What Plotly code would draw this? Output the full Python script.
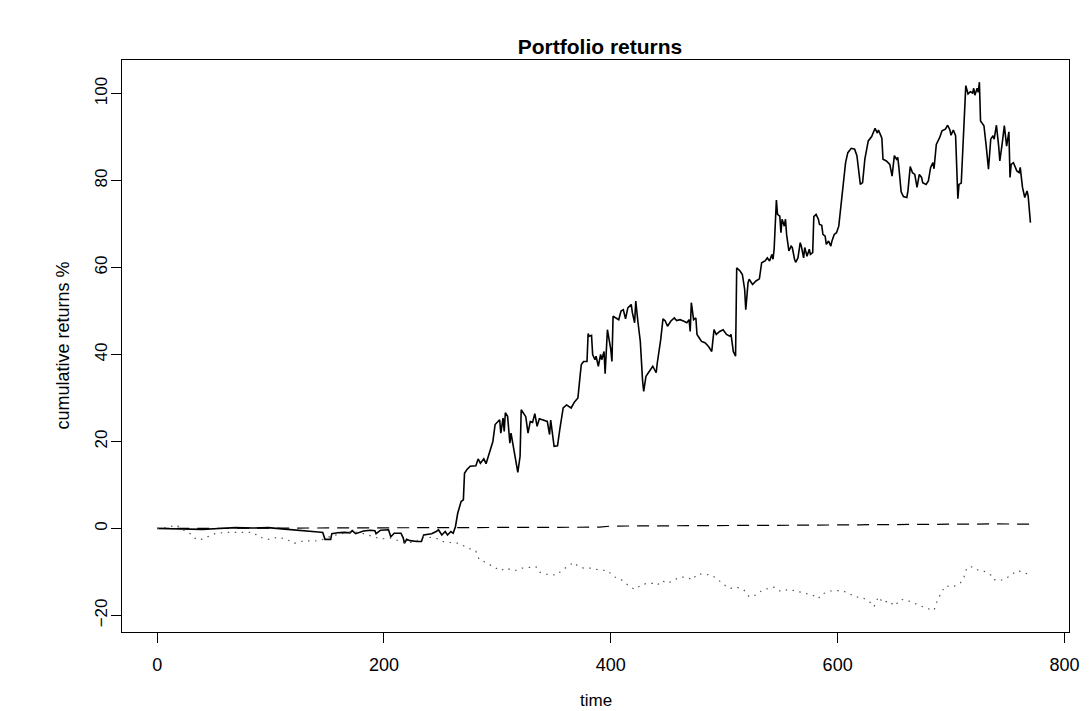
import plotly.graph_objects as go

# ---- data ----
time_main = [0, 20, 40, 55, 69, 84, 98, 110, 121, 133, 142, 146, 148, 153, 154, 159, 165, 170, 172, 175,
             178, 182, 188, 192, 193, 197, 204, 206, 209, 215, 217, 218, 220, 223, 229, 233, 235, 242, 246, 248,
             251, 254, 256, 259, 261, 263, 265, 268, 270, 271, 273, 276, 281, 283, 285, 288, 290, 293, 296, 298,
             300, 302, 303, 305, 306, 307, 309, 311, 312, 314, 316, 318, 320, 321, 325, 327, 329, 331, 333, 335,
             337, 341, 344, 346, 347, 350, 353, 355, 358, 361, 365, 368, 371, 373, 374, 376, 379, 380, 381, 383,
             384, 386, 387, 389, 391, 392, 394, 395, 397, 400, 401, 402, 405, 407, 409, 411, 413, 415, 418, 419,
             421, 422, 424, 426, 428, 429, 431, 434, 437, 440, 441, 444, 446, 448, 450, 453, 456, 458, 461, 464,
             467, 469, 470, 471, 473, 475, 476, 478, 480, 483, 486, 489, 491, 493, 496, 499, 502, 505, 506, 508,
             510, 511, 514, 516, 518, 519, 521, 522, 525, 528, 531, 533, 536, 538, 540, 542, 543, 544, 546, 547,
             549, 550, 551, 553, 554, 555, 557, 559, 560, 562, 563, 565, 567, 568, 570, 571, 573, 575, 576, 578,
             579, 581, 583, 584, 586, 587, 589, 590, 592, 594, 595, 597, 599, 601, 603, 605, 607, 609, 612, 615,
             617, 620, 622, 624, 627, 630, 633, 635, 636, 639, 640, 643, 646, 648, 650, 652, 653, 654, 656, 658,
             661, 662, 664, 666, 668, 670, 672, 674, 675, 678, 680, 682, 684, 685, 687, 690, 692, 695, 697, 699,
             700, 702, 704, 706, 707, 709, 711, 713, 715, 717, 719, 720, 721, 723, 724, 725, 726, 729, 731, 732,
             733, 735, 737, 738, 740, 742, 743, 745, 747, 749, 751, 752, 753, 755, 758, 760, 761, 763, 765, 767,
             768, 770]
ret_main = [0.0, -0.1, -0.2, 0.0, 0.2, 0.1, 0.2, -0.1, -0.4, -0.7, -0.8, -0.9, -2.5, -2.5, -1.2, -1.0, -0.9, -1.0, -0.5, -1.2,
            -0.9, -0.6, -0.4, -0.5, -1.2, -0.4, -0.3, -1.9, -1.1, -1.1, -2.2, -3.4, -2.5, -2.8, -3.0, -3.0, -1.5, -1.2, -0.7, -0.3,
            -1.5, -0.7, -1.5, -0.7, -1.1, 0.4, 3.5, 6.2, 6.6, 12.7, 13.5, 14.3, 14.4, 16.0, 15.0, 16.0, 14.9, 17.7, 20.0, 23.9,
            24.4, 25.0, 21.9, 25.4, 22.3, 26.6, 25.8, 19.6, 21.9, 18.9, 15.8, 12.9, 16.6, 27.3, 25.7, 21.9, 24.6, 24.4, 26.4, 23.5,
            25.2, 24.9, 24.6, 21.6, 24.9, 18.9, 19.0, 22.7, 27.7, 28.4, 27.7, 29.1, 30.0, 35.3, 37.7, 38.4, 38.4, 44.8, 44.2, 44.4,
            40.0, 38.8, 39.6, 37.3, 40.0, 38.8, 40.7, 35.6, 45.7, 41.1, 38.4, 48.8, 48.4, 48.0, 50.0, 50.3, 48.2, 50.7, 51.5, 49.6,
            47.3, 52.3, 47.3, 43.0, 34.0, 31.5, 35.0, 36.1, 37.3, 35.8, 38.1, 43.4, 48.2, 47.7, 46.5, 47.7, 48.4, 47.8, 48.0, 47.7,
            47.3, 48.0, 45.3, 51.9, 48.0, 48.4, 44.6, 43.8, 43.0, 42.7, 41.9, 40.7, 45.7, 44.6, 45.3, 45.7, 44.6, 44.2, 44.6, 40.7,
            39.6, 59.9, 59.2, 58.4, 55.0, 50.3, 56.5, 57.3, 56.1, 56.9, 57.4, 61.1, 61.5, 62.2, 61.5, 63.0, 61.9, 64.2, 75.5, 72.2,
            71.8, 68.0, 71.1, 69.5, 71.1, 67.6, 63.8, 64.9, 64.6, 61.9, 61.2, 62.2, 65.7, 64.9, 62.2, 64.6, 62.6, 64.2, 63.0, 63.4,
            71.7, 72.2, 71.1, 69.9, 69.7, 67.6, 67.2, 65.3, 66.1, 64.9, 66.1, 67.6, 68.0, 69.5, 74.5, 78.4, 84.1, 86.4, 87.4, 87.2,
            85.7, 79.1, 79.5, 84.9, 89.1, 90.1, 92.0, 90.9, 91.6, 89.7, 84.9, 84.5, 83.7, 81.0, 85.7, 84.9, 85.3, 83.0, 77.4, 76.3,
            76.1, 77.6, 83.2, 81.8, 81.4, 78.4, 81.4, 80.7, 79.5, 79.1, 79.9, 83.0, 84.1, 82.7, 88.3, 89.9, 91.4, 91.8, 92.7, 91.6,
            90.4, 91.6, 90.3, 75.8, 79.1, 79.4, 91.8, 101.8, 99.9, 100.4, 100.1, 101.2, 99.6, 101.2, 100.3, 102.6, 93.7, 92.6, 87.9, 85.7,
            82.6, 89.5, 90.3, 89.5, 92.7, 87.9, 84.5, 88.3, 92.6, 87.9, 91.2, 80.7, 83.7, 84.1, 82.2, 81.8, 83.0, 78.4, 76.1, 77.6,
            76.4, 70.3]

time_dash = [0, 100, 200, 300, 390, 400, 500, 560, 620, 700, 740, 770]
ret_dash = [0.0, 0.05, 0.15, 0.25, 0.3, 0.55, 0.6, 0.75, 0.85, 1.05, 1.05, 1.0]

time_dot = [0, 10, 17, 24, 30, 34, 38, 44, 51, 60, 70, 83, 86, 89, 98, 107, 114, 121, 130, 139,
            146, 154, 165, 172, 182, 190, 197, 206, 217, 226, 235, 246, 252, 258, 266, 274, 281, 284, 290, 297,
            303, 307, 315, 322, 328, 334, 336, 342, 352, 358, 363, 367, 371, 376, 383, 389, 397, 403, 409, 415,
            421, 427, 432, 438, 441, 445, 450, 456, 461, 467, 472, 476, 482, 488, 493, 499, 505, 511, 517, 522,
            528, 534, 538, 544, 550, 557, 565, 572, 578, 583, 586, 595, 604, 610, 615, 622, 628, 632, 636, 640,
            645, 650, 656, 662, 668, 674, 679, 685, 687, 691, 695, 702, 708, 711, 714, 719, 724, 730, 735, 737,
            743, 748, 752, 758, 762, 770]
ret_dot = [0.0, 0.3, 0.8, -0.5, -1.3, -2.4, -2.6, -1.9, -1.2, -0.9, -0.9, -0.9, -1.1, -1.9, -2.5, -2.0, -2.5, -3.4, -2.8, -2.9,
           -2.5, -1.7, -1.1, -0.7, -1.2, -1.8, -2.4, -2.2, -3.2, -3.2, -1.9, -2.2, -3.0, -3.2, -3.4, -4.5, -5.2, -7.2, -7.8, -8.9,
           -9.7, -9.1, -9.7, -9.1, -8.9, -8.8, -9.9, -10.5, -10.7, -9.4, -8.6, -7.8, -8.6, -9.1, -9.1, -9.5, -9.7, -11.1, -11.7, -13.0,
           -14.0, -13.0, -12.6, -12.6, -13.0, -12.0, -12.6, -11.8, -11.2, -11.2, -11.8, -10.5, -10.5, -10.7, -11.4, -12.8, -13.8, -13.5, -14.0, -15.7,
           -15.3, -14.1, -13.8, -13.5, -14.5, -14.0, -14.5, -14.9, -15.3, -16.1, -15.1, -14.3, -14.3, -14.9, -15.7, -15.9, -16.8, -18.0, -15.7, -17.1,
           -16.6, -17.8, -16.3, -16.6, -17.2, -17.8, -18.4, -18.8, -17.2, -14.9, -13.2, -13.4, -12.6, -11.5, -9.0, -8.8, -9.6, -9.9, -10.7, -11.7,
           -12.0, -11.5, -10.9, -9.7, -9.9, -10.7]

x_ticks = [0, 200, 400, 600, 800]
y_ticks = [-20, 0, 20, 40, 60, 80, 100]

FONT = "Liberation Sans, Arial, Helvetica, sans-serif"

# the page puts the figure 8 px in from the top-left corner
W, H = 1083, 703

fig = go.Figure()
fig.add_trace(go.Scatter(x=time_main, y=ret_main, mode="lines",
                         line=dict(color="black", width=1.6), showlegend=False))
fig.add_trace(go.Scatter(x=time_dash, y=ret_dash, mode="lines",
                         line=dict(color="black", width=1.2, dash="12px,8px"), showlegend=False))
fig.add_trace(go.Scatter(x=time_dot, y=ret_dot, mode="lines",
                         line=dict(color="#555555", width=1.2, dash="1.5px,5.5px"), showlegend=False))

fig.update_layout(
    width=W, height=H,
    margin=dict(l=114, r=13, t=52, b=79),
    paper_bgcolor="white", plot_bgcolor="white",
    font=dict(family=FONT, color="black", size=17),
    title=dict(text="Portfolio returns", x=592 / W, xanchor="center",
               y=1 - 39 / H, yanchor="middle",
               font=dict(family=FONT, size=21, weight="bold", color="black")),
    xaxis=dict(range=[-31, 804], tickvals=x_ticks, ticks="outside", ticklen=10,
               tickcolor="black", showline=True, linecolor="black", linewidth=1,
               mirror=True, showgrid=False, zeroline=False,
               tickfont=dict(size=18), ticklabelstandoff=6),
    yaxis=dict(range=[-23.8, 107.7], tickvals=y_ticks, ticks="outside", ticklen=10,
               tickcolor="black", showline=True, linecolor="black", linewidth=1,
               mirror=True, showgrid=False, zeroline=False, tickangle=-90,
               tickfont=dict(size=17), ticklabelstandoff=-3),
    annotations=[
        dict(text="time", xref="paper", yref="paper", x=0.5, y=(632 - 700) / 572,
             xanchor="center", yanchor="middle", showarrow=False, font=dict(size=17)),
        dict(text="cumulative returns %", xref="paper", yref="paper",
             x=(62 - 122) / 956, y=0.5, xanchor="center", yanchor="middle",
             textangle=-90, showarrow=False, font=dict(size=18)),
    ],
)

fig.write_html("out.html")
